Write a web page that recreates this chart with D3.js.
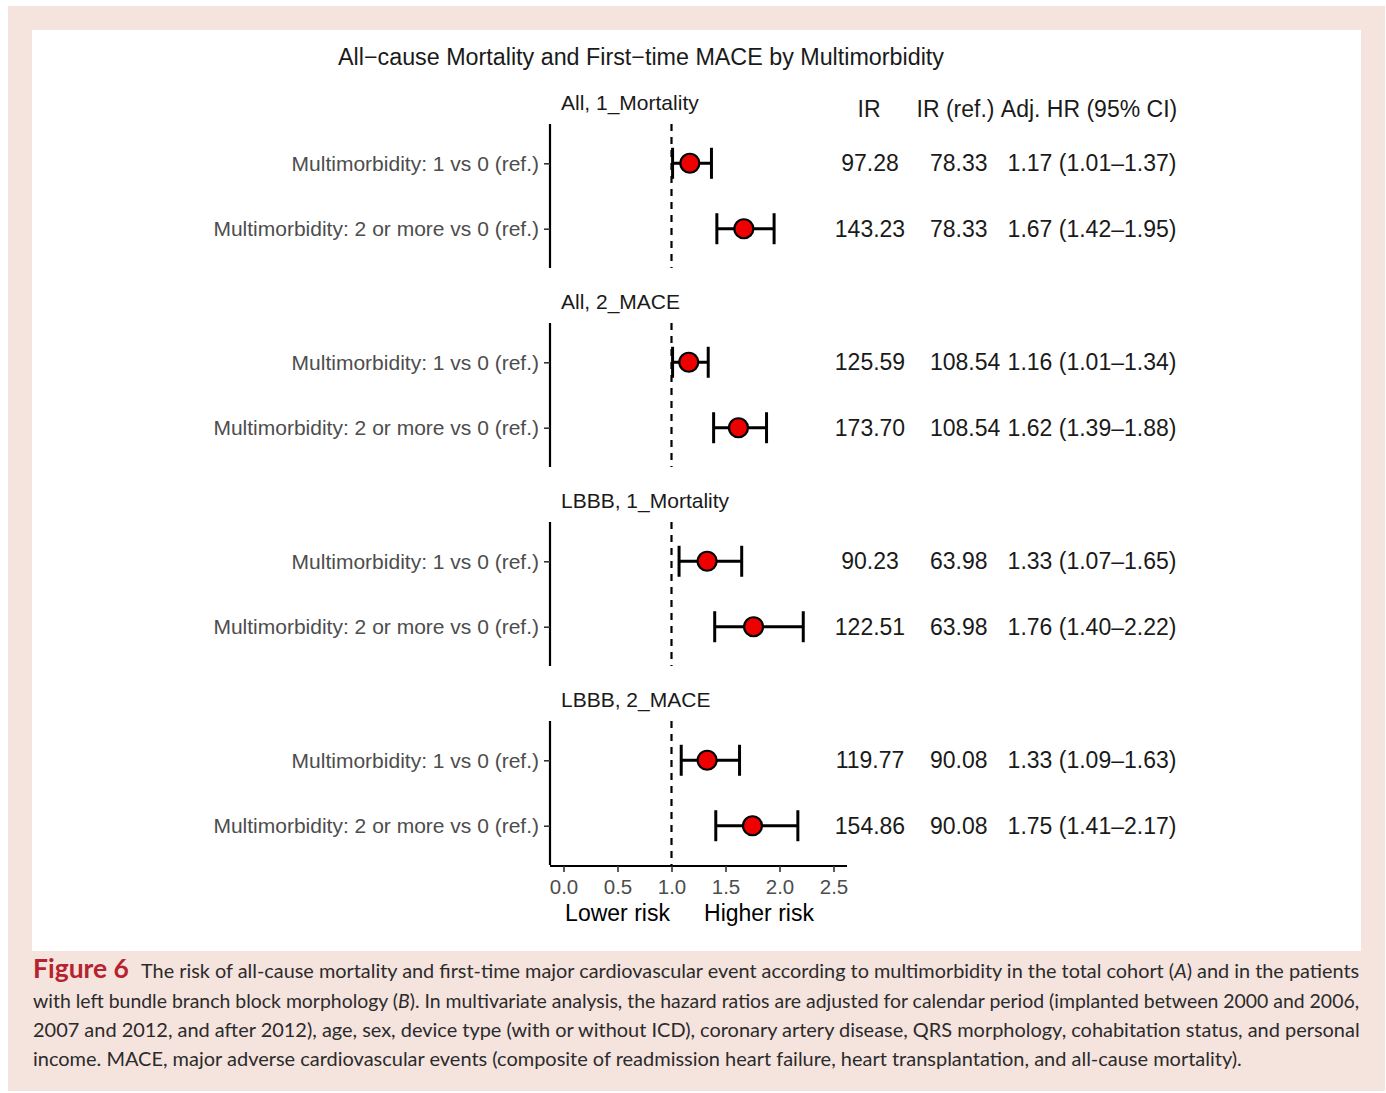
<!DOCTYPE html>
<html>
<head>
<meta charset="utf-8">
<script src="https://cdn.jsdelivr.net/npm/d3@7"></script>
<style>
  html, body { margin: 0; padding: 0; background: #ffffff; }
  svg { display: block; }
</style>
</head>
<body>
<script>
// Facet panels, rows and estimates for the forest plot
const panels = ["All, 1_Mortality", "All, 2_MACE", "LBBB, 1_Mortality", "LBBB, 2_MACE"];
const rows = ["Multimorbidity: 1 vs 0 (ref.)", "Multimorbidity: 2 or more vs 0 (ref.)"];
const hr    = [1.17, 1.67, 1.16, 1.62, 1.33, 1.76, 1.33, 1.75];
const lower = [1.01, 1.42, 1.01, 1.39, 1.07, 1.40, 1.09, 1.41];
const upper = [1.37, 1.95, 1.34, 1.88, 1.65, 2.22, 1.63, 2.17];
const ir    = ["97.28", "143.23", "125.59", "173.70", "90.23", "122.51", "119.77", "154.86"];
const irRef = ["78.33", "78.33", "108.54", "108.54", "63.98", "63.98", "90.08", "90.08"];
const hrText = ["1.17 (1.01\u20131.37)", "1.67 (1.42\u20131.95)", "1.16 (1.01\u20131.34)", "1.62 (1.39\u20131.88)",
                "1.33 (1.07\u20131.65)", "1.76 (1.40\u20132.22)", "1.33 (1.09\u20131.63)", "1.75 (1.41\u20132.17)"];
const xTicks = [0, 0.5, 1, 1.5, 2, 2.5];
const headers = ["IR", "IR (ref.)", "Adj. HR (95% CI)"];
const title = "All\u2212cause Mortality and First\u2212time MACE by Multimorbidity";
const captionLines = [
  [{t: "Figure 6", bold: true}, {t: "The risk of all-cause mortality and first-time major cardiovascular event according to multimorbidity in the total cohort ("}, {t: "A", it: true}, {t: ") and in the patients"}],
  [{t: "with left bundle branch block morphology ("}, {t: "B", it: true}, {t: "). In multivariate analysis, the hazard ratios are adjusted for calendar period (implanted between 2000 and 2006,"}],
  [{t: "2007 and 2012, and after 2012), age, sex, device type (with or without ICD), coronary artery disease, QRS morphology, cohabitation status, and personal"}],
  [{t: "income. MACE, major adverse cardiovascular events (composite of readmission heart failure, heart transplantation, and all-cause mortality)."}]
];

const W = 1386, H = 1093;
const svg = d3.select("body").append("svg").attr("width", W).attr("height", H);

// Journal frame
svg.append("rect").attr("x", 8).attr("y", 6).attr("width", 1377).attr("height", 1085).attr("fill", "#f5e3de");
svg.append("rect").attr("x", 32).attr("y", 30).attr("width", 1329).attr("height", 921).attr("fill", "#ffffff");

const font = "'Liberation Sans', Arial, sans-serif";

svg.append("text").attr("x", 641).attr("y", 65).attr("text-anchor", "middle")
  .attr("font-family", font).attr("font-size", 23.3).attr("fill", "#1a1a1a").text(title);

// Scales
const x = d3.scaleLinear().domain([-0.125, 2.625]).range([550, 847]);
const panelTop = d3.scaleBand().domain(panels).range([124, 124 + 199 * 4]).paddingInner(0);
const panelH = 144;

// Table column headers
const hdrX = [869, 955.5, 1089];
svg.selectAll("text.hdr").data(headers).join("text").attr("class", "hdr")
  .attr("x", (d, i) => hdrX[i]).attr("y", 117).attr("text-anchor", "middle")
  .attr("font-family", font).attr("font-size", 23).attr("fill", "#1a1a1a").text(d => d);

panels.forEach((p, pi) => {
  const top = panelTop(p);
  const g = svg.append("g");
  const y = d3.scalePoint().domain(rows).range([top, top + panelH]).padding(0.6);

  // strip label
  g.append("text").attr("x", 561).attr("y", top - 14).attr("font-family", font)
    .attr("font-size", 21).attr("fill", "#1a1a1a").text(p);

  // reference line at HR = 1
  g.append("line").attr("x1", x(1)).attr("x2", x(1)).attr("y1", top).attr("y2", top + panelH)
    .attr("stroke", "#000").attr("stroke-width", 2.2).attr("stroke-dasharray", "7,6");

  // left axis
  const ax = g.append("g").attr("transform", `translate(${x.range()[0]},0)`)
    .call(d3.axisLeft(y).tickSize(6).tickPadding(5));
  ax.select(".domain").attr("stroke", "#000").attr("stroke-width", 2.2).attr("d", `M0,${top}V${top + panelH}`);
  ax.selectAll(".tick line").attr("stroke", "#333").attr("stroke-width", 1.6);
  ax.selectAll(".tick text").attr("font-family", font).attr("font-size", 21).attr("fill", "#4d4d4d");

  rows.forEach((r, ri) => {
    const k = pi * 2 + ri;
    const cy = y(r);
    // CI whisker with caps
    g.append("line").attr("x1", x(lower[k])).attr("x2", x(upper[k])).attr("y1", cy).attr("y2", cy)
      .attr("stroke", "#000").attr("stroke-width", 3);
    [lower[k], upper[k]].forEach(v => {
      g.append("line").attr("x1", x(v)).attr("x2", x(v)).attr("y1", cy - 15.5).attr("y2", cy + 15.5)
        .attr("stroke", "#000").attr("stroke-width", 3);
    });
    g.append("circle").attr("cx", x(hr[k])).attr("cy", cy).attr("r", 9.5)
      .attr("fill", "#ee0000").attr("stroke", "#000").attr("stroke-width", 2.2);

    // table values
    g.append("text").attr("x", 870).attr("y", cy + 8).attr("text-anchor", "middle")
      .attr("font-family", font).attr("font-size", 23).attr("fill", "#1a1a1a").text(ir[k]);
    g.append("text").attr("x", 930).attr("y", cy + 8).attr("text-anchor", "start")
      .attr("font-family", font).attr("font-size", 23).attr("fill", "#1a1a1a").text(irRef[k]);
    g.append("text").attr("x", 1092).attr("y", cy + 8).attr("text-anchor", "middle")
      .attr("font-family", font).attr("font-size", 23).attr("fill", "#1a1a1a").text(hrText[k]);
  });

  // bottom axis only under the last panel
  if (pi === panels.length - 1) {
    const bx = svg.append("g").attr("transform", `translate(0,${top + panelH + 1})`)
      .call(d3.axisBottom(x).tickValues(xTicks).tickFormat(d3.format(".1f")).tickSize(6).tickPadding(7));
    bx.select(".domain").attr("stroke", "#000").attr("stroke-width", 2.2).attr("d", `M${x.range()[0]},0H${x.range()[1]}`);
    bx.selectAll(".tick line").attr("stroke", "#333").attr("stroke-width", 1.6);
    bx.selectAll(".tick text").attr("font-family", font).attr("font-size", 20.5).attr("fill", "#4d4d4d");
    const ly = top + panelH + 56;
    svg.append("text").attr("x", x(0.5)).attr("y", ly).attr("text-anchor", "middle")
      .attr("font-family", font).attr("font-size", 23).attr("fill", "#000").text("Lower risk");
    svg.append("text").attr("x", x(1.81)).attr("y", ly).attr("text-anchor", "middle")
      .attr("font-family", font).attr("font-size", 23).attr("fill", "#000").text("Higher risk");
  }
});

// Caption: each line is sized so that it spans the caption block width
const capFont = "Lato, 'Open Sans', sans-serif";
const capY = [978, 1008, 1037, 1066];
const capLen = [1219, 1327, 1327, 1210];
captionLines.forEach((parts, li) => {
  let x0 = 33;
  if (parts[0].bold) {
    const f = svg.append("text").attr("x", 33).attr("y", capY[li]).attr("font-family", capFont)
      .attr("font-size", 22).attr("font-weight", "bold").attr("fill", "#b5232f").text(parts[0].t);
    const fw = f.node().getComputedTextLength();
    f.attr("font-size", 22 * 96 / fw);
    parts = parts.slice(1);
    x0 = 141;
  }
  const t = svg.append("text").attr("x", x0).attr("y", capY[li]).attr("font-family", capFont)
    .attr("font-size", 20).attr("fill", "#2b2b2b");
  parts.forEach(pt => {
    t.append("tspan").attr("font-style", pt.it ? "italic" : "normal").text(pt.t);
  });
  const nat = t.node().getComputedTextLength();
  t.attr("font-size", 20 * capLen[li] / nat);
});
</script>
</body>
</html>
